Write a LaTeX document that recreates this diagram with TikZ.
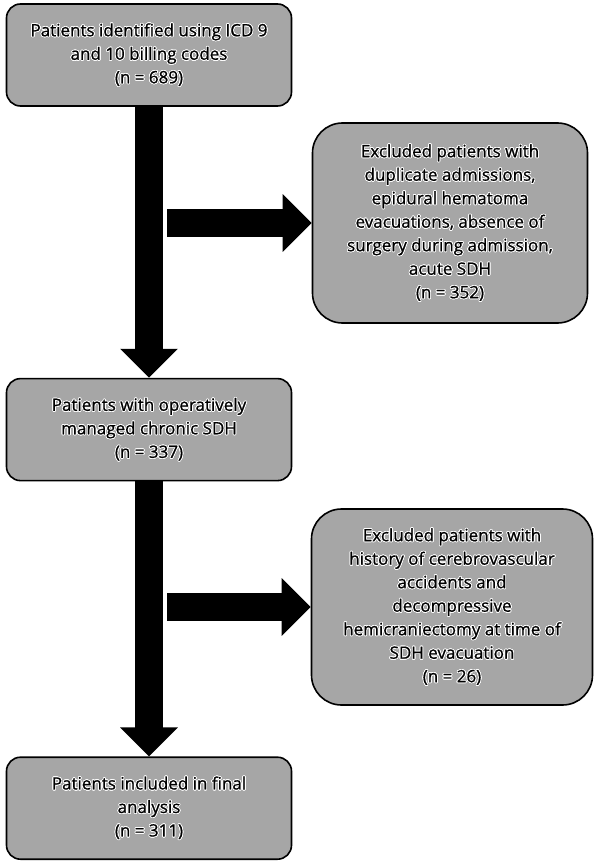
\documentclass[tikz,border=0pt]{standalone}
\usepackage{fontspec}
\setmainfont{Open Sans}[FakeBold=0.9]
\usepackage[copies]{contour}
\usepackage{tikz}
\usetikzlibrary{arrows.meta,positioning}
\definecolor{boxCol}{HTML}{A6A6A6}
\contourlength{0.8pt}
\newcommand{\hl}[1]{\contour{white}{#1}}

\begin{document}
\begin{tikzpicture}[x=1pt,y=-1pt,every node/.style={font=\fontsize{17}{23.5}\selectfont}]
  \tikzset{bx/.style={draw=black,line width=1.6pt,fill=boxCol,rounded corners=14pt,align=center,
        inner sep=0pt,minimum width=285pt,minimum height=102pt},
    xbx/.style={bx,rounded corners=30pt,minimum width=275pt,minimum height=200pt},
    bigarr/.style={line width=28pt,-{Triangle[length=29pt,width=56pt]}}}
  \useasboundingbox (0,0) rectangle (597,861);
  \node[bx] (ids) at (149,55) {\hl{Patients identified using ICD 9}\\\hl{and 10 billing codes}\\\hl{(n = 689)}};
  \node[bx, below=271pt of ids] (csdh) {\hl{Patients with operatively}\\\hl{managed chronic SDH}\\\hl{(n = 337)}};
  \node[bx, below=275pt of csdh] (final) {\hl{Patients included in final}\\\hl{analysis}\\\hl{(n = 311)}};
  \node[xbx] (exA) at (450,223) {\hl{Excluded patients with}\\\hl{duplicate admissions,}\\\hl{epidural hematoma}\\
        \hl{evacuations, absence of}\\\hl{surgery during admission,}\\\hl{acute SDH}\\\hl{(n = 352)}};
  \node[xbx,minimum width=281pt,minimum height=196pt] (exB) at (452,607) {\hl{Excluded patients with}\\
        \hl{history of cerebrovascular}\\\hl{accidents and}\\\hl{decompressive}\\\hl{hemicraniectomy at time of}\\
        \hl{SDH evacuation}\\\hl{(n = 26)}};
  \coordinate (splitA) at (167,223);
  \coordinate (splitB) at (167,607);
  \draw[bigarr] (ids.south) -- (csdh.north);
  \draw[bigarr] (csdh.south) -- (final.north);
  \draw[bigarr] (splitA) -- (exA.west);
  \draw[bigarr] (splitB) -- (exB.west);
\end{tikzpicture}
\end{document}
